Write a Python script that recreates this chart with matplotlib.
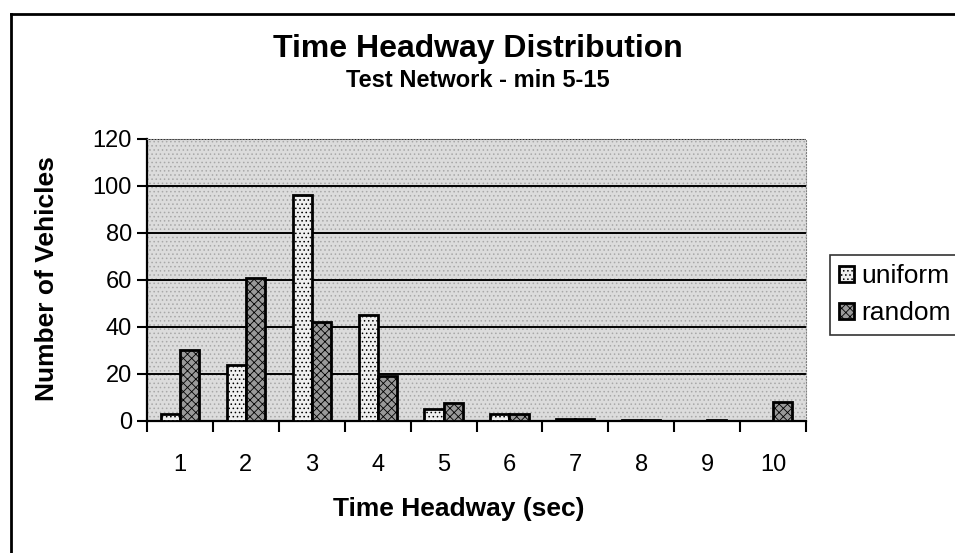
import matplotlib.pyplot as plt
import numpy as np
from matplotlib.lines import Line2D

plt.rcParams['font.family'] = ['Liberation Sans', 'DejaVu Sans']
plt.rcParams['hatch.linewidth'] = 0.6

# headway bins (sec) and vehicle counts per arrival pattern
headway = [1, 2, 3, 4, 5, 6, 7, 8, 9, 10]
uniform = [3, 24, 96, 45, 5, 3, 1, 0.5, 0, 0]
random = [30, 61, 42, 19, 7.5, 3, 1, 0.5, 0.3, 8]

fig = plt.figure(figsize=(9.55, 5.53), dpi=100)
ax = fig.add_axes([0.154, 0.2387, 0.69, 0.51])

x = np.arange(len(headway))
width = 0.29

ax.set_facecolor('#dcdcdc')
# stipple over the plot area
ax.axhspan(0, 120, facecolor='none', edgecolor='#a8a8a8', hatch='....', lw=0, zorder=0)

ax.bar(x - width / 2, uniform, width, facecolor='#efefef', edgecolor='black',
       hatch='....', linewidth=2, label='uniform', zorder=3)
ax.bar(x + width / 2, random, width, facecolor='#9a9a9a', edgecolor='black',
       hatch='xxxx', linewidth=2, label='random', zorder=3)

ax.set_ylim(0, 120)
ax.set_xlim(-0.5, len(headway) - 0.5)
ax.set_yticks(np.arange(0, 121, 20))
ax.set_xticks(x)
ax.set_xticklabels(headway)
ax.set_xticks(np.arange(-0.5, len(headway)), minor=True)
ax.yaxis.grid(True, color='black', linewidth=1.4, zorder=1)
ax.set_axisbelow(True)

ax.tick_params(axis='x', which='major', length=0, pad=24, labelsize=17)
ax.tick_params(axis='x', which='minor', length=8, width=1.5, direction='out')
ax.tick_params(axis='y', length=7, width=1.5, direction='out', labelsize=17, pad=4)

ax.spines['left'].set_linewidth(1.6)
ax.spines['bottom'].set_linewidth(1.6)
for side in ['top', 'right']:
    ax.spines[side].set_linestyle(':')
    ax.spines[side].set_color('#808080')

fig.text(0.049, 0.497, 'Number of Vehicles', rotation=90, ha='center', va='center',
         fontsize=19, fontweight='bold')
fig.text(0.48, 0.08, 'Time Headway (sec)', ha='center', va='center',
         fontsize=19, fontweight='bold')

fig.text(0.5, 0.912, 'Time Headway Distribution', ha='center', va='center',
         fontsize=23, fontweight='bold')
fig.text(0.5, 0.855, 'Test Network - min 5-15', ha='center', va='center',
         fontsize=17, fontweight='bold')

leg = fig.legend(loc='upper left', bbox_to_anchor=(0.869, 0.539), fontsize=19,
                 frameon=True, fancybox=False, edgecolor='black', handlelength=0.55,
                 handleheight=0.55, handletextpad=0.3, borderpad=0.35, labelspacing=0.5,
                 borderaxespad=0)
leg.get_frame().set_linewidth(1.2)

# outer chart border (left and top edges)
fig.add_artist(Line2D([0.011, 0.011], [0.0, 0.975], color='black', lw=2,
                      transform=fig.transFigure))
fig.add_artist(Line2D([0.011, 1.0], [0.975, 0.975], color='black', lw=2,
                      transform=fig.transFigure))

fig.savefig('out.png', dpi=100)
